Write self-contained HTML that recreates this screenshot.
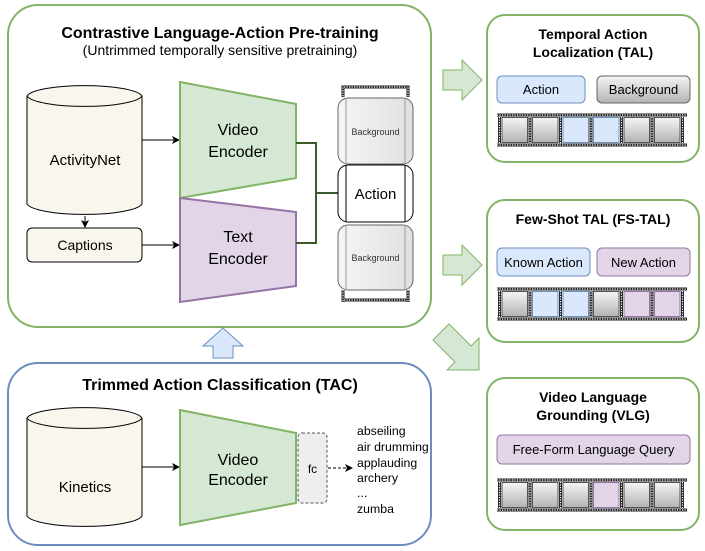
<!DOCTYPE html>
<html><head><meta charset="utf-8"><style>
body{margin:0;background:#fff}
svg{display:block;font-family:"Liberation Sans",Helvetica,Arial,sans-serif}
</style></head><body>
<svg id="s" width="705" height="551" viewBox="0 0 705 551" xmlns="http://www.w3.org/2000/svg">
<defs>
<linearGradient id="g" x1="0" y1="0" x2="0" y2="1"><stop offset="0" stop-color="#f5f5f5"/><stop offset="1" stop-color="#b3b3b3"/></linearGradient>
<linearGradient id="gh" x1="0" y1="0" x2="1" y2="0"><stop offset="0" stop-color="#f5f5f5"/><stop offset="1" stop-color="#e0e0e0"/></linearGradient>
<marker id="ar" markerWidth="8" markerHeight="8" refX="7" refY="4" orient="auto" markerUnits="userSpaceOnUse"><path d="M0,0 L8,4 L0,8 L2,4 z" fill="#000"/></marker>
</defs>
<rect x="8" y="5" width="423" height="322" rx="30" fill="#fff" stroke="#82b366" stroke-width="2"/>
<text x="220" y="38" font-size="16" font-weight="bold" text-anchor="middle">Contrastive Language-Action Pre-training</text>
<text x="220" y="55" font-size="14" text-anchor="middle">(Untrimmed temporally sensitive pretraining)</text>
<path d="M27,96 A58,12 0 0 1 142,96 L142,204 A58,12 0 0 1 27,204 Z" fill="#f9f7ed" stroke="#000"/>
<path d="M27,96 A58,12 0 0 0 142,96" fill="none" stroke="#000"/>
<text x="85" y="165" font-size="15" text-anchor="middle">ActivityNet</text>
<line x1="85" y1="216" x2="85" y2="227" stroke="#000" marker-end="url(#ar)"/>
<rect x="27" y="228" width="115" height="34" rx="5" fill="#f9f7ed" stroke="#000"/>
<text x="85" y="250" font-size="14" text-anchor="middle">Captions</text>
<line x1="142" y1="140" x2="179" y2="140" stroke="#000" marker-end="url(#ar)"/>
<line x1="142" y1="245" x2="179" y2="245" stroke="#000" marker-end="url(#ar)"/>
<polygon points="180,82 296,104 296,178 180,198" fill="#d5e8d4" stroke="#82b366" stroke-width="2"/>
<text x="238" y="135" font-size="16" text-anchor="middle">Video</text>
<text x="238" y="157" font-size="16" text-anchor="middle">Encoder</text>
<polygon points="180,198 296,212 296,286 180,302" fill="#e1d5e7" stroke="#9673a6" stroke-width="2"/>
<text x="238" y="242" font-size="16" text-anchor="middle">Text</text>
<text x="238" y="264" font-size="16" text-anchor="middle">Encoder</text>
<path d="M296,143 H316 V243 H296 M316,193 H338" fill="none" stroke="#3a5a2a" stroke-width="2"/>
<g id="vfilm"></g>
<rect x="338" y="98" width="75" height="66" rx="10" fill="url(#gh)" stroke="#666"/>
<line x1="346" y1="98" x2="346" y2="164" stroke="#999"/><line x1="405" y1="98" x2="405" y2="164" stroke="#999"/>
<text x="375.5" y="135" font-size="9" text-anchor="middle" fill="#333">Background</text>
<rect x="338" y="165" width="75" height="57" rx="10" fill="#fff" stroke="#000"/>
<line x1="346" y1="165" x2="346" y2="222" stroke="#000"/><line x1="405" y1="165" x2="405" y2="222" stroke="#000"/>
<text x="375.5" y="199" font-size="15" text-anchor="middle">Action</text>
<rect x="338" y="225" width="75" height="65" rx="10" fill="url(#gh)" stroke="#666"/>
<line x1="346" y1="225" x2="346" y2="290" stroke="#999"/><line x1="405" y1="225" x2="405" y2="290" stroke="#999"/>
<text x="375.5" y="261" font-size="9" text-anchor="middle" fill="#333">Background</text>
<polygon points="223,328 243,346 233,346 233,358 213,358 213,346 203,346" fill="#dae8fc" stroke="#6c8ebf"/>
<rect x="8" y="363" width="423" height="182" rx="30" fill="#fff" stroke="#6c8ebf" stroke-width="2"/>
<text x="220" y="390" font-size="16" font-weight="bold" text-anchor="middle">Trimmed Action Classification (TAC)</text>
<path d="M27,418 A58,12 0 0 1 142,418 L142,516 A58,12 0 0 1 27,516 Z" fill="#f9f7ed" stroke="#000"/>
<path d="M27,418 A58,12 0 0 0 142,418" fill="none" stroke="#000"/>
<text x="85" y="492" font-size="15" text-anchor="middle">Kinetics</text>
<line x1="142" y1="467" x2="179" y2="467" stroke="#000" marker-end="url(#ar)"/>
<polygon points="180,410 296,433 296,503 180,525" fill="#d5e8d4" stroke="#82b366" stroke-width="2"/>
<text x="238" y="465" font-size="16" text-anchor="middle">Video</text>
<text x="238" y="485" font-size="16" text-anchor="middle">Encoder</text>
<rect x="298" y="433" width="29" height="70" rx="4" fill="#eee" stroke="#555" stroke-dasharray="3,2"/>
<text x="312.5" y="473" font-size="12" text-anchor="middle">fc</text>
<line x1="328" y1="468" x2="352" y2="468" stroke="#000" stroke-dasharray="3,2" marker-end="url(#ar)"/>
<g font-size="12.3"><text x="357" y="435">abseiling</text><text x="357" y="451">air drumming</text><text x="357" y="467">applauding</text><text x="357" y="482">archery</text><text x="357" y="497">...</text><text x="357" y="513">zumba</text></g>
<polygon points="443,70 462,70 462,60 482,80 462,100 462,90 443,90" fill="#d5e8d4" stroke="#82b366"/>
<polygon points="443,255 462,255 462,245 482,265 462,285 462,275 443,275" fill="#d5e8d4" stroke="#82b366"/>
<polygon points="436,336 446,326 468,348 476,340 476,372 444,372 452,364 430,342" fill="#d5e8d4" stroke="#82b366" transform="translate(3,-2)"/>
<rect x="487" y="15" width="212" height="147" rx="18" fill="#fff" stroke="#82b366" stroke-width="2"/>
<text x="593" y="39" font-size="14" font-weight="bold" text-anchor="middle">Temporal Action</text>
<text x="593" y="57" font-size="14" font-weight="bold" text-anchor="middle">Localization (TAL)</text>
<rect x="497" y="76" width="88" height="27" rx="5" fill="#dae8fc" stroke="#6c8ebf"/>
<text x="541" y="94" font-size="13" text-anchor="middle">Action</text>
<rect x="597" y="76" width="93" height="27" rx="5" fill="url(#g)" stroke="#666"/>
<text x="643.5" y="94" font-size="13" text-anchor="middle">Background</text>
<rect x="487" y="200" width="212" height="142" rx="18" fill="#fff" stroke="#82b366" stroke-width="2"/>
<text x="593" y="224" font-size="14" font-weight="bold" text-anchor="middle">Few-Shot TAL (FS-TAL)</text>
<rect x="497" y="248" width="93" height="28" rx="5" fill="#dae8fc" stroke="#6c8ebf"/>
<text x="543.5" y="267" font-size="13" text-anchor="middle">Known Action</text>
<rect x="597" y="248" width="93" height="28" rx="5" fill="#e1d5e7" stroke="#9673a6"/>
<text x="643.5" y="267" font-size="13" text-anchor="middle">New Action</text>
<rect x="487" y="378" width="212" height="152" rx="18" fill="#fff" stroke="#82b366" stroke-width="2"/>
<text x="593" y="402" font-size="14" font-weight="bold" text-anchor="middle">Video Language</text>
<text x="593" y="420" font-size="14" font-weight="bold" text-anchor="middle">Grounding (VLG)</text>
<rect x="497" y="435" width="193" height="29" rx="5" fill="#e1d5e7" stroke="#9673a6"/>
<text x="593.5" y="454" font-size="13" text-anchor="middle">Free-Form Language Query</text>
<g id="films"></g>
</svg>
<script>
var NS="http://www.w3.org/2000/svg";
function el(p,t,a){var e=document.createElementNS(NS,t);for(var k in a)e.setAttribute(k,a[k]);p.appendChild(e);return e;}
var F=document.getElementById('films');
function dots(x1,y1,x2,y2){el(F,'line',{x1:x1,y1:y1,x2:x2,y2:y2,stroke:'#222','stroke-width':3});
 el(F,'line',{x1:x1,y1:y1,x2:x2,y2:y2,stroke:'#fff','stroke-width':1.2,'stroke-dasharray':'1.2,1.3'});}
function hfilm(x0,y0,cols){
  var w=190,h=34;
  el(F,'rect',{x:x0,y:y0,width:w,height:h,fill:'#fff'});
  dots(x0,y0+2,x0+w,y0+2);dots(x0,y0+h-2,x0+w,y0+h-2);
  var fw=30.5;
  for(var i=0;i<=6;i++){var sx=x0+2.5+i*fw;dots(sx,y0+4,sx,y0+h-4);}
  for(var i=0;i<6;i++){
    var fx=x0+5+i*fw;
    var c=cols[i],fill='url(#g)',st='#555';
    if(c=='b'){fill='#dae8fc';st='#6c8ebf';}
    if(c=='p'){fill='#e1d5e7';st='#9673a6';}
    el(F,'rect',{x:fx,y:y0+4.5,width:fw-5,height:h-9,fill:fill,stroke:st});
  }
}
hfilm(497,113,'ggbbgg');
hfilm(497,287,'gbbgpp');
hfilm(497,478,'gggpgg');
var V=document.getElementById('vfilm');
function vband(y){
 el(V,'line',{x1:343,y1:y,x2:343,y2:y+12,stroke:'#222','stroke-width':3});
 el(V,'line',{x1:408,y1:y,x2:408,y2:y+12,stroke:'#222','stroke-width':3});
 el(V,'line',{x1:343,y1:y,x2:343,y2:y+12,stroke:'#fff','stroke-width':1.2,'stroke-dasharray':'1.2,1.3'});
 el(V,'line',{x1:408,y1:y,x2:408,y2:y+12,stroke:'#fff','stroke-width':1.2,'stroke-dasharray':'1.2,1.3'});
 var yy=(y<150)?y+2:y+10;
 el(V,'line',{x1:344,y1:yy,x2:407,y2:yy,stroke:'#222','stroke-width':3});
 el(V,'line',{x1:344,y1:yy,x2:407,y2:yy,stroke:'#fff','stroke-width':1.2,'stroke-dasharray':'1.2,1.3'});}
vband(85);vband(290);
</script>
</body></html>
